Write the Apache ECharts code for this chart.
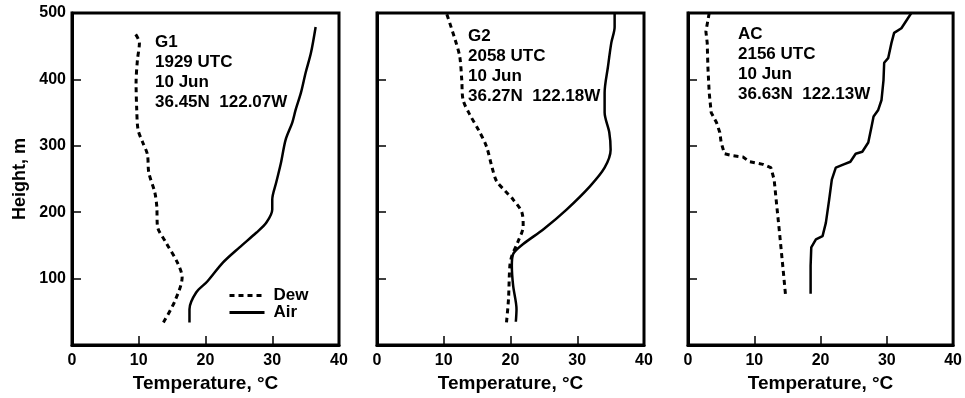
<!DOCTYPE html>
<html>
<head>
<meta charset="utf-8">
<script src="https://cdn.jsdelivr.net/npm/echarts@6/dist/echarts.min.js"></script>
<style>
  html, body { margin: 0; padding: 0; background: #fff; }
  #chart { width: 965px; height: 398px; }
</style>
</head>
<body>
<div id="chart"></div>
<script>
// [temperature °C, height m]
const g1Dew = [[13.7, 34], [15.4, 66], [16.5, 102], [15.8, 124], [14.1, 154], [12.8, 179], [12.7, 209],
  [12.4, 230], [11.5, 260], [11.3, 287], [10.6, 305], [9.9, 324], [9.7, 354], [9.6, 395], [9.8, 429],
  [10.1, 455], [9.4, 470]];
const g1Air = [[17.6, 34], [17.6, 54], [18.6, 79], [20.3, 96], [22.6, 124], [25.1, 147], [27.6, 169],
  [29.1, 184], [30.0, 204], [30.0, 219], [30.6, 245], [31.3, 274], [32.0, 309], [33.0, 335], [33.5, 354],
  [34.3, 380], [35.0, 410], [35.8, 440], [36.5, 479]];
const g2Dew = [[19.4, 34], [19.7, 69], [19.9, 119], [20.2, 134], [21.1, 155], [21.9, 179], [21.7, 200],
  [20.4, 219], [19.2, 232], [17.9, 247], [17.2, 269], [16.4, 299], [15.2, 324], [13.9, 347], [12.9, 369],
  [12.7, 399], [12.4, 434], [11.7, 460], [10.4, 500]];
const g2Air = [[20.8, 35], [20.9, 54], [20.4, 89], [20.2, 119], [20.4, 137], [21.9, 152], [24.9, 174],
  [28.4, 204], [31.9, 239], [34.1, 267], [35.0, 294], [34.8, 320], [34.1, 350], [34.1, 380], [34.6, 419],
  [35.1, 455], [35.6, 479], [35.6, 500]];
const acDew = [[14.7, 77], [14.3, 119], [13.8, 170], [13.3, 219], [13.0, 249], [12.5, 267], [11.3, 272],
  [9.3, 276], [8.3, 283], [6.8, 285], [5.5, 288], [5.0, 305], [4.8, 320], [4.3, 335], [3.5, 350],
  [3.2, 380], [3.0, 419], [2.9, 455], [2.7, 472], [3.2, 500]];
const acAir = [[18.5, 77], [18.5, 119], [18.6, 147], [19.3, 159], [20.3, 164], [20.8, 184], [21.3, 219],
  [21.7, 249], [22.3, 267], [23.5, 272], [24.5, 276], [25.3, 288], [26.3, 291], [27.2, 305], [27.7, 329],
  [28.0, 344], [28.7, 354], [29.2, 369], [29.5, 399], [29.6, 425], [30.2, 432], [30.7, 455], [31.1, 470],
  [32.2, 477], [33.7, 500]];

const panelNotes = [
  'G1\n1929 UTC\n10 Jun\n36.45N  122.07W',
  'G2\n2058 UTC\n10 Jun\n36.27N  122.18W',
  'AC\n2156 UTC\n10 Jun\n36.63N  122.13W'
];

const FONT = '"Liberation Sans", Arial, Helvetica, sans-serif';
const gridLefts = [72, 377, 688];
const noteBoxes = [[155, 32], [468, 26], [738, 24]];

const chart = echarts.init(document.getElementById('chart'), null, { renderer: 'canvas' });

const grids = gridLefts.map((left) => ({
  left: left,
  top: 13,
  width: 267,
  height: 333,
  show: true,
  borderColor: '#000',
  borderWidth: 3,
  backgroundColor: 'transparent',
}));

const xAxes = gridLefts.map((_, i) => ({
  type: 'value',
  gridIndex: i,
  min: 0,
  max: 40,
  interval: 10,
  name: 'Temperature, °C',
  nameLocation: 'middle',
  nameGap: 29,
  nameMoveOverlap: false,
  nameTextStyle: { color: '#000', fontFamily: FONT, fontWeight: 'bold', fontSize: 19 },
  axisLine: { show: true, lineStyle: { color: '#000', width: 3 } },
  axisTick: { show: true, inside: true, length: 9, lineStyle: { color: '#000', width: 1.5 } },
  axisLabel: { color: '#000', fontFamily: FONT, fontWeight: 'bold', fontSize: 16, margin: 8 },
  splitLine: { show: false },
}));

const yAxes = gridLefts.map((_, i) => ({
  type: 'value',
  gridIndex: i,
  min: 0,
  max: 500,
  interval: 100,
  name: i === 0 ? 'Height, m' : '',
  nameLocation: 'middle',
  nameGap: 43,
  nameMoveOverlap: false,
  nameTextStyle: { color: '#000', fontFamily: FONT, fontWeight: 'bold', fontSize: 18 },
  axisLine: { show: true, lineStyle: { color: '#000', width: 3 } },
  axisTick: { show: true, inside: true, length: 9, lineStyle: { color: '#000', width: 1.5 } },
  axisLabel: {
    show: i === 0,
    showMinLabel: false,
    color: '#000', fontFamily: FONT, fontWeight: 'bold', fontSize: 16, margin: 6,
  },
  splitLine: { show: false },
}));

function dewSeries(data, idx) {
  return {
    name: 'Dew',
    type: 'line',
    xAxisIndex: idx,
    yAxisIndex: idx,
    data: data,
    symbol: 'none',
    smooth: idx === 2 ? false : 0.3,
    clip: true,
    lineStyle: { color: '#000', width: 3, type: [5, 4] },
    itemStyle: { color: '#000' },
  };
}

function airSeries(data, idx) {
  return {
    name: 'Air',
    type: 'line',
    xAxisIndex: idx,
    yAxisIndex: idx,
    data: data,
    symbol: 'none',
    smooth: idx === 2 ? false : 0.3,
    clip: true,
    lineStyle: { color: '#000', width: 2.5, type: 'solid' },
    itemStyle: { color: '#000' },
  };
}

const option = {
  backgroundColor: '#fff',
  animation: false,
  grid: grids,
  xAxis: xAxes,
  yAxis: yAxes,
  legend: {
    data: ['Dew', 'Air'],
    orient: 'vertical',
    left: 223,
    top: 282,
    itemWidth: 35,
    itemHeight: 14,
    itemGap: 0,
    selectedMode: false,
    // hide the marker symbol, keep only the line sample
    itemStyle: { color: 'rgba(0,0,0,0)', borderColor: 'rgba(0,0,0,0)', borderWidth: 0 },
    lineStyle: { color: '#000', width: 3 },
    textStyle: { color: '#000', fontFamily: FONT, fontWeight: 'bold', fontSize: 17, padding: [0, 0, 0, 4] },
  },
  graphic: panelNotes.map((txt, i) => ({
    type: 'text',
    left: noteBoxes[i][0],
    top: noteBoxes[i][1],
    style: {
      text: txt,
      fill: '#000',
      fontFamily: FONT,
      fontWeight: 'bold',
      fontSize: 17,
      lineHeight: 20,
    },
  })),
  series: [
    dewSeries(g1Dew, 0), airSeries(g1Air, 0),
    dewSeries(g2Dew, 1), airSeries(g2Air, 1),
    dewSeries(acDew, 2), airSeries(acAir, 2),
  ],
};

chart.setOption(option);
</script>
</body>
</html>
